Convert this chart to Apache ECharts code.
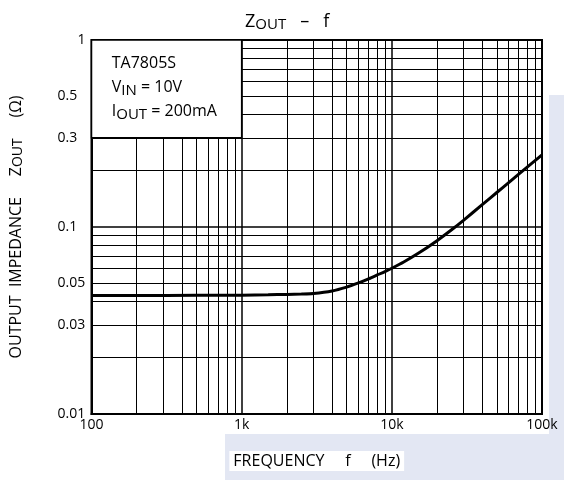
<!DOCTYPE html>
<html>
<head>
<meta charset="utf-8">
<script src="https://cdn.jsdelivr.net/npm/echarts@6/dist/echarts.min.js"></script>
<style>
html,body{margin:0;padding:0;background:#fff;}
#c{width:564px;height:480px;}
</style>
</head>
<body>
<div id="c"></div>
<script>
// Frequency (Hz) and output impedance (Ohm)
var freq = [100, 200, 500, 1000, 1500, 2000, 2500, 3000, 4000, 5000, 6000, 7000, 8000, 9000, 10000, 12000, 15000, 20000, 25000, 30000, 40000, 50000, 60000, 70000, 85000, 100000];
var zout = [0.043, 0.043, 0.0431, 0.0432, 0.0434, 0.0436, 0.0438, 0.0441, 0.0455, 0.0477, 0.0502, 0.0528, 0.0554, 0.0578, 0.0602, 0.065, 0.0723, 0.0845, 0.0966, 0.1086, 0.1317, 0.1529, 0.1728, 0.1916, 0.2182, 0.2433];

// axis ranges and labels
var xRange = [100, 100000];
var yRange = [0.01, 1];
var xTickLabels = {100: '100', 1000: '1k', 10000: '10k', 100000: '100k'};
var yExtraLabels = [0.03, 0.05, 0.3, 0.5];
var minorMult = [2, 3, 4, 5, 6, 7, 8, 9];
var xDecades = [100, 1000, 10000];
var yDecades = [0.01, 0.1];

// note box
var boxX = [100, 1000];
var boxY = [0.3, 1];
var noteLines = ['TA7805S', 'V{s|IN} = 10V', 'I{s|OUT} = 200mA'];

var FONT = 'Open Sans';

var points = freq.map(function (f, i) { return [f, zout[i]]; });

var gridLines = [];
xDecades.forEach(function (d) {
  minorMult.forEach(function (m) { gridLines.push({ xAxis: d * m, label: { show: false } }); });
});
yDecades.forEach(function (d) {
  minorMult.forEach(function (m) {
    var v = +(d * m).toFixed(4);
    var show = yExtraLabels.indexOf(v) >= 0;
    gridLines.push({
      yAxis: v,
      label: show ? {
        show: true, position: 'start', distance: 34, align: 'left', formatter: String(v),
        color: '#000', fontSize: 14, fontFamily: FONT
      } : { show: false }
    });
  });
});

var chart = echarts.init(document.getElementById('c'), null, { renderer: 'canvas' });
chart.setOption({
  backgroundColor: '#fff',
  animation: false,
  graphic: [
    { type: 'rect', silent: true, z: -10, shape: { x: 549, y: 95, width: 15, height: 340 }, style: { fill: '#e3e7f3' } },
    { type: 'rect', silent: true, z: -10, shape: { x: 225, y: 434, width: 339, height: 46 }, style: { fill: '#e3e7f3' } }
  ],
  title: {
    text: 'Z{s|OUT}   –   f',
    left: 240, top: 6,
    textStyle: {
      fontFamily: FONT, fontSize: 18, fontWeight: 'normal', color: '#000',
      rich: { s: { fontFamily: FONT, fontSize: 15, color: '#000', padding: [6, 0, 0, 0] } }
    }
  },
  grid: { left: 88, right: 22, top: 40, bottom: 66, show: true, borderColor: '#000', borderWidth: 2, backgroundColor: '#fff' },
  xAxis: {
    type: 'log', logBase: 10, min: xRange[0], max: xRange[1],
    name: 'FREQUENCY     f     (Hz)', nameLocation: 'middle', nameGap: 37,
    nameTextStyle: { fontFamily: FONT, fontSize: 16, color: '#000', backgroundColor: '#fff', padding: [2, 4, 2, 4] },
    axisLine: { lineStyle: { color: '#000', width: 2 } },
    axisTick: { show: false },
    axisLabel: {
      color: '#000', fontFamily: FONT, fontSize: 14, margin: 4,
      formatter: function (v) { return xTickLabels[Math.round(v)] || ''; }
    },
    splitLine: { show: true, lineStyle: { color: '#000', width: 1.5 } }
  },
  yAxis: {
    type: 'log', logBase: 10, min: yRange[0], max: yRange[1],
    name: 'OUTPUT  IMPEDANCE     Z{s|OUT}     (Ω)', nameLocation: 'middle', nameGap: 66, nameRotate: 90,
    nameTextStyle: {
      fontFamily: FONT, fontSize: 16, color: '#000',
      rich: { s: { fontFamily: FONT, fontSize: 14, color: '#000', padding: [5, 0, 0, 0] } }
    },
    axisLine: { lineStyle: { color: '#000', width: 2 } },
    axisTick: { show: false },
    axisLabel: {
      color: '#000', fontFamily: FONT, fontSize: 14, margin: 34, align: 'left',
      formatter: function (v) {
        var s = String(+v.toPrecision(3));
        return s === '1' ? '{one|1}' : s;
      },
      rich: { one: { fontFamily: FONT, fontSize: 14, color: '#000', padding: [0, 0, 0, 20] } }
    },
    splitLine: { show: true, lineStyle: { color: '#000', width: 1.5 } }
  },
  series: [
    {
      name: 'grid', type: 'line', data: points, z: 2, silent: true,
      showSymbol: false, lineStyle: { opacity: 0 },
      markLine: {
        silent: true, symbol: ['none', 'none'], animation: false, z: 2,
        lineStyle: { color: '#000', width: 1, type: 'solid' },
        data: gridLines
      }
    },
    {
      name: 'box', type: 'line', data: points, z: 3, silent: true,
      showSymbol: false, lineStyle: { opacity: 0 },
      markArea: {
        silent: true, z: 10,
        itemStyle: { color: '#fff', borderColor: '#000', borderWidth: 1.5, opacity: 1 },
        label: {
          show: true, position: 'insideTopLeft', distance: 0, padding: [12, 0, 0, 21],
          formatter: noteLines.join('\n'),
          color: '#000', fontFamily: FONT, fontSize: 16, lineHeight: 24,
          rich: { s: { fontFamily: FONT, fontSize: 15, color: '#000', lineHeight: 24, padding: [7, 0, 0, 0] } }
        },
        data: [[{ xAxis: boxX[0], yAxis: boxY[0] }, { xAxis: boxX[1], yAxis: boxY[1] }]]
      }
    },
    {
      name: 'Zout', type: 'line', data: points, z: 4, smooth: 0.25,
      showSymbol: false, lineStyle: { color: '#000', width: 3 }
    }
  ]
});
</script>
</body>
</html>
